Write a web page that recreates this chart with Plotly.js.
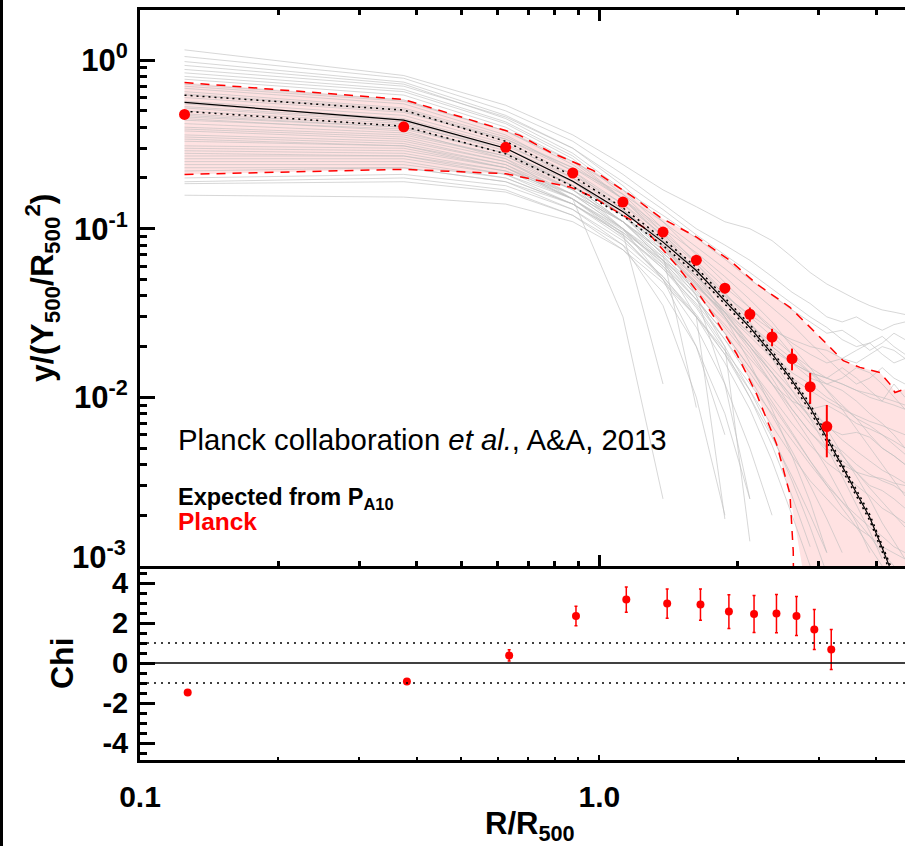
<!DOCTYPE html>
<html><head><meta charset="utf-8">
<script src="https://cdn.plot.ly/plotly-3.0.1.min.js"></script>
<style>html,body{margin:0;padding:0;background:#fff;overflow:hidden}</style>
</head><body><div id="chart" style="width:905px;height:846px"></div>
<script>
// ---------- data ----------
const radiusBins = [0.125,0.375,0.625,0.875,1.125,1.375,1.625,1.875,2.125,2.375,2.625,2.875,3.125,3.375,3.625,3.875,4.125,4.375,4.625];

// individual cluster profiles (grey), values at radiusBins
const clusterProfiles = [
 [1.15,0.81,0.54,0.36,0.24,0.17,0.135,0.11,0.10,0.085,0.068,0.055,0.047,0.042,0.038,0.035,0.033,0.032,0.031],
 [1.05,0.78,0.50,0.33,0.21,0.14,0.10,0.080,0.065,0.052,0.042,0.036,0.030,0.028,0.030,0.027,0.025,0.027,0.028],
 [0.98,0.74,0.47,0.30,0.18,0.11,0.070,0.048,0.034,0.025,0.018,0.014,0.011,0.009,0.0075,0.006,0.005,0.0045,0.004],
 [0.93,0.72,0.45,0.28,0.17,0.10,0.062,0.040,0.026,0.017,0.011,0.0075,0.005,0.0034,0.0023,0.0016,0.0011],
 [0.88,0.70,0.46,0.30,0.19,0.13,0.092,0.070,0.055,0.044,0.036,0.030,0.026,0.022,0.020,0.021,0.023,0.020,0.018],
 [0.84,0.67,0.43,0.27,0.16,0.095,0.055,0.030,0.016,0.0085,0.0045,0.0024,0.0012],
 [0.80,0.65,0.42,0.26,0.15,0.09,0.057,0.038,0.027,0.020,0.016,0.014,0.013,0.015,0.013,0.011,0.0095,0.012,0.010],
 [0.77,0.62,0.40,0.25,0.15,0.088,0.052,0.032,0.020,0.013,0.0085,0.0062,0.0050,0.0042,0.0036,0.0030,0.0028,0.0025,0.0022],
 [0.72,0.58,0.38,0.24,0.15,0.095,0.064,0.045,0.034,0.026,0.021,0.018,0.016,0.017,0.019,0.021,0.018,0.016,0.017],
 [0.68,0.55,0.36,0.22,0.13,0.078,0.048,0.030,0.019,0.012,0.0080,0.0055,0.0038,0.0026,0.0018,0.0012],
 [0.65,0.52,0.35,0.23,0.15,0.10,0.072,0.052,0.038,0.028,0.020,0.015,0.011,0.0085,0.0065,0.0050,0.0040,0.0032,0.0026],
 [0.62,0.50,0.33,0.21,0.13,0.080,0.050,0.032,0.021,0.014,0.0095,0.0070,0.0055,0.0048,0.0040,0.0035,0.0032,0.0030,0.0027],
 [0.60,0.49,0.34,0.22,0.14,0.085,0.040,0.012,0.0025],
 [0.57,0.47,0.32,0.20,0.12,0.070,0.042,0.026,0.017,0.012,0.0095,0.0085,0.0090,0.0080,0.0070,0.0065,0.0060,0.0055,0.0050],
 [0.55,0.45,0.31,0.21,0.14,0.092,0.062,0.042,0.028,0.019,0.013,0.0090,0.0065,0.0046,0.0034,0.0025,0.0018,0.0014,0.0011],
 [0.52,0.43,0.30,0.19,0.12,0.075,0.047,0.030,0.020,0.014,0.010,0.0078,0.0066,0.0060,0.0062,0.0058,0.0050,0.0045,0.0040],
 [0.50,0.42,0.29,0.18,0.10,0.050,0.020,0.006],
 [0.48,0.41,0.30,0.20,0.13,0.085,0.058,0.041,0.030,0.023,0.018,0.015,0.013,0.012,0.011,0.0105,0.010,0.0095,0.0090],
 [0.46,0.40,0.28,0.18,0.11,0.065,0.038,0.022,0.013,0.0078,0.0048,0.0030,0.0019,0.0012],
 [0.44,0.39,0.28,0.19,0.12,0.078,0.052,0.036,0.026,0.020,0.016,0.013,0.012,0.011,0.0095,0.0080,0.0070,0.0060,0.0050],
 [0.42,0.37,0.27,0.17,0.10,0.060,0.035,0.020,0.011,0.0060,0.0032,0.0017,0.0009],
 [0.40,0.36,0.27,0.18,0.12,0.080,0.055,0.040,0.031,0.025,0.022,0.020,0.019,0.017,0.016,0.018,0.020,0.019,0.017],
 [0.38,0.34,0.25,0.16,0.10,0.062,0.038,0.024,0.015,0.010,0.0070,0.0052,0.0041,0.0035,0.0030,0.0026,0.0022,0.0020,0.0018],
 [0.36,0.33,0.25,0.17,0.11,0.072,0.048,0.033,0.024,0.018,0.014,0.012,0.010,0.0088,0.0075,0.0068,0.0060,0.0052,0.0046],
 [0.35,0.32,0.24,0.15,0.090,0.050,0.026,0.012,0.0050,0.0020],
 [0.33,0.31,0.24,0.16,0.10,0.065,0.043,0.029,0.020,0.014,0.010,0.0075,0.0058,0.0045,0.0036,0.0029,0.0024,0.0020,0.0017],
 [0.31,0.30,0.23,0.16,0.11,0.075,0.052,0.037,0.027,0.021,0.017,0.014,0.012,0.013,0.015,0.014,0.012,0.010,0.0085],
 [0.30,0.29,0.23,0.15,0.095,0.058,0.034,0.019,0.010,0.0052,0.0026,0.0013],
 [0.29,0.28,0.22,0.15,0.098,0.063,0.041,0.027,0.018,0.012,0.0085,0.0062,0.0048,0.0040,0.0036,0.0034,0.0033,0.0031,0.0030],
 [0.28,0.27,0.22,0.16,0.11,0.072,0.047,0.031,0.021,0.015,0.011,0.0085,0.0068,0.0056,0.0048,0.0042,0.0037,0.0034,0.0031],
 [0.27,0.27,0.21,0.14,0.088,0.052,0.030,0.016,0.0085,0.0042,0.0020,0.0010],
 [0.26,0.26,0.21,0.15,0.10,0.068,0.046,0.032,0.023,0.017,0.013,0.011,0.0095,0.0085,0.0078,0.0072,0.0068,0.0064,0.0060],
 [0.25,0.25,0.20,0.14,0.092,0.058,0.036,0.022,0.014,0.0090,0.0060,0.0042,0.0031,0.0024,0.0019,0.0015,0.0012,0.0010],
 [0.24,0.24,0.20,0.14,0.095,0.065,0.045,0.032,0.024,0.019,0.016,0.014,0.013,0.012,0.011,0.010,0.0095,0.0090,0.0085],
 [0.23,0.23,0.19,0.13,0.080,0.035,0.010,0.002],
 [0.22,0.23,0.19,0.14,0.092,0.060,0.038,0.024,0.015,0.0095,0.0062,0.0042,0.0030,0.0022,0.0017,0.0013,0.0010],
 [0.20,0.21,0.18,0.13,0.085,0.052,0.031,0.018,0.010,0.0058,0.0034,0.0020,0.0012],
 [0.19,0.20,0.17,0.12,0.075,0.042,0.020,0.0080,0.0025],
 [0.185,0.19,0.165,0.12,0.080,0.050,0.030,0.018,0.011,0.0068,0.0045,0.0032,0.0025,0.0020,0.0017,0.0015,0.0013,0.0012,0.0011],
 [0.158,0.154,0.14,0.11,0.075,0.048,0.030,0.019,0.012,0.0080,0.0056,0.0040,0.0030,0.0024,0.0020,0.0017,0.0015,0.0013,0.0012],
 [0.45,0.38,0.26,0.15,0.094,0.012],
 [0.34,0.31,0.23,0.15,0.030,0.0025],
 [0.53,0.44,0.30,0.19,0.12,0.070,0.0087],
 [0.39,0.35,0.26,0.17,0.11,0.065,0.030,0.0019],
 [0.47,0.40,0.28,0.18,0.11,0.068,0.040,0.020,0.0014],
 [0.70,0.57,0.38,0.25,0.17,0.12,0.088,0.066,0.050,0.040,0.033,0.028,0.024,0.025,0.022,0.019,0.021,0.024,0.022],
 [0.63,0.51,0.34,0.23,0.16,0.11,0.078,0.058,0.044,0.034,0.027,0.021,0.017,0.014,0.012,0.013,0.015,0.013,0.012]
];

// Planck envelope (red dashed)
const envUpX = [0.125,0.375,0.625,0.671,0.780,0.969,1.185,1.354,1.627,1.923,2.198,2.598,2.970,3.394,3.689,4.077,4.288,4.396,4.624];
const envUpY = [0.737,0.584,0.382,0.358,0.285,0.222,0.154,0.117,0.0892,0.0648,0.0471,0.0342,0.0238,0.01649,0.01506,0.01406,0.01199,0.01069,0.01119];
const envLoX = [0.125,0.375,0.625,0.706,0.863,0.969,1.072,1.246,1.472,1.627,1.799,1.989,2.198,2.430,2.598,2.641,2.650];
const envLoY = [0.210,0.225,0.212,0.198,0.1767,0.154,0.1297,0.1022,0.0605,0.0430,0.0285,0.0181,0.01046,0.00528,0.00266,0.00122,0.0005];
// lower boundary of the pink shading
const bandLoX = [0.125,0.375,0.625,0.706,0.863,0.969,1.072,1.246,1.472,1.627,1.799,1.989,2.198,2.430,2.598,2.77,2.81,4.8];
const bandLoY = [0.210,0.225,0.212,0.198,0.1767,0.154,0.1297,0.1022,0.0605,0.0430,0.0285,0.0181,0.01046,0.00528,0.00266,0.00095,0.0001,0.0001];

// expected profile from P_A10 (black) and its dotted range
const modelX  = [0.125,0.375,0.625,0.875,1.125,1.375,1.625,1.875,2.125,2.375,2.625,2.875,3.125,3.375,3.625,3.875,4.125,4.375];
const modelY  = [0.561,0.44,0.30,0.191,0.126,0.0833,0.0565,0.0375,0.026,0.0181,0.01256,0.00871,0.00578,0.00391,0.00271,0.00194,0.00128,0.00085];
const modelUp = [0.619,0.505,0.33,0.205,0.133,0.087,0.059,0.039,0.027,0.0188,0.0131,0.0091,0.0060,0.00406,0.00282,0.00202,0.00133,0.00089];
const modelLo = [0.497,0.405,0.278,0.178,0.119,0.0795,0.054,0.036,0.0249,0.0174,0.0121,0.0083,0.0055,0.00374,0.0026,0.00186,0.00123,0.00081];

// Planck stacked points
const planckR   = [0.125,0.375,0.625,0.875,1.125,1.375,1.625,1.875,2.125,2.375,2.625,2.875,3.125];
const planckY   = [0.476,0.402,0.304,0.214,0.144,0.0955,0.0651,0.0444,0.0311,0.0228,0.01696,0.01156,0.00671];
const planckErr = [0.003,0.003,0.003,0.003,0.003,0.003,0.003,0.003,0.003,0.0027,0.0025,0.0024,0.0023];

// Chi panel
const chiR   = [0.127,0.381,0.636,0.889,1.144,1.404,1.659,1.913,2.170,2.428,2.684,2.935,3.195];
const chiVal = [-1.48,-0.93,0.38,2.35,3.17,2.97,2.92,2.57,2.45,2.47,2.35,1.68,0.68];
const chiErr = [0.05,0.08,0.28,0.49,0.63,0.73,0.78,0.84,0.92,0.96,0.98,1.0,1.0];

const yTickVals = [0.01,0.1,1];
const yTickText = ['<b>10<sup>-2</sup></b>','<b>10<sup>-1</sup></b>','<b>10<sup>0</sup></b>'];
const chiTickVals = [-4,-2,0,2,4];
const chiTickText = ['-4','-2','0','2','4'];
const xTickVals = [0.1,1];
const xTickText = ['0.1','1.0'];
const xMinor = [0.2,0.3,0.4,0.5,0.6,0.7,0.8,0.9,2,3,4];
const yMinor = [0.002,0.003,0.004,0.005,0.006,0.007,0.008,0.009,0.02,0.03,0.04,0.05,0.06,0.07,0.08,0.09,0.2,0.3,0.4,0.5,0.6,0.7,0.8,0.9];

// ---------- traces ----------
const FONT = 'Liberation Sans, Arial, Helvetica, sans-serif';
const traces = [];
traces.push({
  x: envUpX.concat(bandLoX.slice().reverse()),
  y: envUpY.concat(bandLoY.slice().reverse()),
  type:'scatter', mode:'lines', fill:'toself', fillcolor:'#ffe2e2',
  line:{width:0, color:'rgba(0,0,0,0)'}, hoverinfo:'skip', xaxis:'x', yaxis:'y'
});
clusterProfiles.forEach(p => {
  traces.push({x: radiusBins.slice(0,p.length), y: p, type:'scatter', mode:'lines',
    line:{color:'rgba(190,190,190,0.62)', width:1}, hoverinfo:'skip', xaxis:'x', yaxis:'y'});
});
traces.push({x:envUpX, y:envUpY, type:'scatter', mode:'lines', line:{color:'#ff0000', width:1.5, dash:'9px,7px'}, xaxis:'x', yaxis:'y'});
traces.push({x:envLoX, y:envLoY, type:'scatter', mode:'lines', line:{color:'#ff0000', width:1.5, dash:'9px,7px'}, xaxis:'x', yaxis:'y'});
traces.push({x:modelX, y:modelUp, type:'scatter', mode:'lines', line:{color:'#000', width:1.5, dash:'2px,4px'}, xaxis:'x', yaxis:'y'});
traces.push({x:modelX, y:modelLo, type:'scatter', mode:'lines', line:{color:'#000', width:1.5, dash:'2px,4px'}, xaxis:'x', yaxis:'y'});
traces.push({x:modelX, y:modelY, type:'scatter', mode:'lines', line:{color:'#000', width:1.2}, xaxis:'x', yaxis:'y'});
traces.push({x:planckR, y:planckY, type:'scatter', mode:'markers',
  marker:{color:'#ff0000', size:11},
  error_y:{type:'data', array:planckErr, color:'#ff0000', thickness:2, width:0},
  xaxis:'x', yaxis:'y'});
traces.push({x:chiR, y:chiVal, type:'scatter', mode:'markers',
  marker:{color:'#ff0000', size:8},
  error_y:{type:'data', array:chiErr, color:'#ff0000', thickness:1.5, width:1.5},
  xaxis:'x2', yaxis:'y2'});

const splitY = 194/750;
const layout = {
  width:905, height:846,
  margin:{l:140, r:0, t:10, b:86},
  paper_bgcolor:'#fff', plot_bgcolor:'rgba(0,0,0,0)',
  showlegend:false,
  font:{family:FONT, color:'#000'},
  xaxis:{type:'log', range:[-1,0.665], domain:[0,1], anchor:'y',
    showline:true, linewidth:3, linecolor:'#000', mirror:'ticks',
    ticks:'inside', ticklen:11, tickwidth:3, tickcolor:'#000',
    tickmode:'array', tickvals:xTickVals, showticklabels:false,
    minor:{tickmode:'array', tickvals:xMinor, ticks:'inside', ticklen:5, tickwidth:3, tickcolor:'#000', showgrid:false},
    showgrid:false, zeroline:false},
  xaxis2:{type:'log', range:[-1,0.665], domain:[0,1], anchor:'y2',
    showline:true, linewidth:3, linecolor:'#000',
    ticks:'inside', ticklen:5, tickwidth:2, tickcolor:'#000',
    tickmode:'array', tickvals:xTickVals, ticktext:xTickText,
    tickfont:{family:FONT, size:30, weight:'bold'}, ticklabelstandoff:8,
    minor:{tickmode:'array', tickvals:xMinor, ticks:'inside', ticklen:3, tickwidth:2, tickcolor:'#000', showgrid:false},
    showgrid:false, zeroline:false},
  yaxis:{type:'log', range:[-3,0.297], domain:[splitY,1], anchor:'x',
    showline:true, linewidth:3, linecolor:'#000',
    ticks:'inside', ticklen:15, tickwidth:3, tickcolor:'#000',
    tickmode:'array', tickvals:yTickVals, ticktext:yTickText,
    tickfont:{family:FONT, size:31}, ticklabelstandoff:3,
    minor:{tickmode:'array', tickvals:yMinor, ticks:'inside', ticklen:7, tickwidth:3, tickcolor:'#000', showgrid:false},
    showgrid:false, zeroline:false},
  yaxis2:{range:[-4.85,4.85], domain:[0,splitY], anchor:'x2',
    showline:true, linewidth:3, linecolor:'#000',
    ticks:'inside', ticklen:15, tickwidth:3, tickcolor:'#000',
    tickmode:'array', tickvals:chiTickVals, ticktext:chiTickText,
    tickfont:{family:FONT, size:29, weight:'bold'}, ticklabelstandoff:3,
    minor:{dtick:0.5, ticks:'inside', ticklen:7, tickwidth:3, tickcolor:'#000', showgrid:false},
    showgrid:false, zeroline:false},
  shapes:[
    {type:'line', xref:'paper', yref:'y2', x0:0, x1:1, y0:0, y1:0, line:{color:'#000', width:1.4}},
    {type:'line', xref:'paper', yref:'y2', x0:0, x1:1, y0:1, y1:1, line:{color:'#000', width:1.5, dash:'2px,5px'}},
    {type:'line', xref:'paper', yref:'y2', x0:0, x1:1, y0:-1, y1:-1, line:{color:'#000', width:1.5, dash:'2px,5px'}},
    {type:'rect', xref:'paper', yref:'paper', x0:-140/765, x1:-137/765, y0:-86/750, y1:1+10/750, fillcolor:'#000', line:{width:0}}
  ],
  annotations:[
    {xref:'paper', yref:'paper', x:-12/765, y:(760-555)/750, xanchor:'right', yanchor:'middle', showarrow:false,
     text:'<b>10<sup>-3</sup></b>', font:{family:FONT, size:31}},
    {xref:'paper', yref:'paper', x:(42-140)/765, y:(760-288)/750, xanchor:'center', yanchor:'middle', showarrow:false, textangle:-90,
     text:'<b>y/(Y<sub>500</sub>/R<sub>500</sub><sup>2</sup>)</b>', font:{family:FONT, size:32}},
    {xref:'paper', yref:'paper', x:(62-140)/765, y:(760-663)/750, xanchor:'center', yanchor:'middle', showarrow:false, textangle:-90,
     text:'<b>Chi</b>', font:{family:FONT, size:32}},
    {xref:'paper', yref:'paper', x:(530-140)/765, y:(760-826)/750, xanchor:'center', yanchor:'middle', showarrow:false,
     text:'<b>R/R<sub>500</sub></b>', font:{family:FONT, size:31}},
    {xref:'paper', yref:'paper', x:(176-140)/765, y:(760-440)/750, xanchor:'left', yanchor:'middle', showarrow:false,
     text:'Planck collaboration <i>et al.</i>, A&amp;A, 2013', font:{family:FONT, size:29.3}},
    {xref:'paper', yref:'paper', x:(176-140)/765, y:(760-498)/750, xanchor:'left', yanchor:'middle', showarrow:false,
     text:'<b>Expected from P<sub>A10</sub></b>', font:{family:FONT, size:23.5}},
    {xref:'paper', yref:'paper', x:(176-140)/765, y:(760-521)/750, xanchor:'left', yanchor:'middle', showarrow:false,
     text:'<b>Planck</b>', font:{family:FONT, size:24.5, color:'#ff0000'}}
  ]
};
Plotly.newPlot('chart', traces, layout, {displayModeBar:false, staticPlot:true});
</script></body></html>
